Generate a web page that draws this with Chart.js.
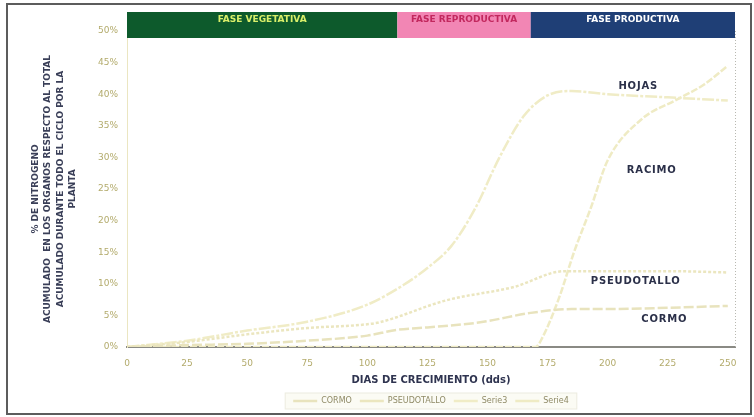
<!DOCTYPE html>
<html>
<head>
<meta charset="utf-8">
<script src="https://cdn.jsdelivr.net/npm/chart.js@4.4.1/dist/chart.umd.min.js"></script>
<style>
  html, body { margin: 0; padding: 0; background: #fff; }
  #wrap { width: 754px; height: 417px; position: relative; }
</style>
</head>
<body>
<div id="wrap"><canvas id="nitroChart"></canvas></div>
<script>
// % de nitrogeno acumulado por organo segun dias de crecimiento
const cormoDias = [0, 25, 50, 75, 100, 112, 125, 147, 168, 185, 200, 225, 250];
const cormoVal  = [0, 0.3, 0.5, 1.0, 1.8, 2.7, 3.1, 3.9, 5.4, 6.0, 6.0, 6.2, 6.5];

const pseudoDias = [0, 25, 50, 75, 100, 105, 133, 161, 182, 200, 225, 250];
const pseudoVal  = [0, 0.8, 2.0, 3.0, 3.6, 3.9, 7.4, 9.5, 12.0, 12.0, 12.0, 11.8];

const hojasDias = [0, 25, 50, 75, 100, 115, 125, 135, 145, 155, 165, 175, 185, 200, 225, 250];
const hojasVal  = [0, 1.0, 2.6, 4.0, 6.7, 9.8, 12.5, 16.0, 22.0, 30.0, 36.5, 39.8, 40.5, 40.0, 39.5, 39.0];

const racimoDias = [0, 50, 100, 150, 170, 173, 180, 186, 193, 200, 214, 228, 240, 250];
const racimoVal  = [0, 0, 0, 0, 0, 1.6, 8.0, 15.0, 22.0, 29.5, 36.0, 39.0, 41.5, 44.5];

const serieNombres = ['CORMO', 'PSEUDOTALLO', 'Serie3', 'Serie4'];

const diasTicks = [0, 25, 50, 75, 100, 125, 150, 175, 200, 225, 250];
const porcentajeTicks = [0, 5, 10, 15, 20, 25, 30, 35, 40, 45, 50];

// fases del cultivo (en dias)
const faseNombres = ['FASE VEGETATIVA', 'FASE REPRODUCTIVA', 'FASE PRODUCTIVA'];
const faseInicio = [0, 112.5, 168];
const faseFin = [112.5, 168, 253];

// etiquetas dentro del grafico
const etiquetas = ['HOJAS', 'RACIMO', 'PSEUDOTALLO', 'CORMO'];
const etiquetaDia = [204.5, 208, 193, 214];
const etiquetaPct = [41.3, 27.9, 10.4, 4.4];

const FONT = "'DejaVu Sans', Verdana, sans-serif";
const faseFondo = ['#0d5a2c', '#f286b4', '#1f3f76'];
const faseTexto = ['#d9ef6a', '#c2285e', '#ffffff'];

function puntos(dias, vals) {
    return dias.map((d, i) => ({ x: d, y: vals[i] }));
}

const marcoPlugin = {
    id: 'marco',
    afterLayout(chart) {
        // centrar la leyenda bajo el area del grafico
        const lg = chart.legend;
        if (!lg) return;
        const dx = (chart.chartArea.left + chart.chartArea.right) / 2 - (lg.left + lg.right) / 2;
        lg.left += dx;
        lg.right += dx;
        (lg.legendHitBoxes || []).forEach(b => { b.left += dx; });
    },
    beforeDraw(chart) {
        const { ctx } = chart;
        ctx.save();
        ctx.fillStyle = '#fff';
        ctx.fillRect(0, 0, chart.width, chart.height);
        ctx.strokeStyle = '#5c5c5c';
        ctx.lineWidth = 2;
        ctx.strokeRect(7, 4, 744, 410);

        // fondo de la leyenda
        const boxes = chart.legend && chart.legend.legendHitBoxes;
        if (boxes && boxes.length) {
            const first = boxes[0];
            const last = boxes[boxes.length - 1];
            const bx = first.left - 8;
            const bw = last.left + last.width - first.left + 16;
            ctx.fillStyle = '#fbfbf4';
            ctx.strokeStyle = '#ecebdf';
            ctx.lineWidth = 1;
            ctx.fillRect(bx, first.top - 4, bw, first.height + 8);
            ctx.strokeRect(bx, first.top - 4, bw, first.height + 8);
        }
        ctx.restore();
    },
    afterDatasetsDraw(chart) {
        const { ctx, chartArea, scales: { x, y } } = chart;
        ctx.save();

        // borde derecho punteado
        ctx.strokeStyle = '#b8b8b0';
        ctx.lineWidth = 1;
        ctx.setLineDash([1, 2]);
        ctx.beginPath();
        ctx.moveTo(chartArea.right + 0.5, chartArea.top);
        ctx.lineTo(chartArea.right + 0.5, chartArea.bottom);
        ctx.stroke();
        ctx.setLineDash([]);

        // barras de fases
        const top = chartArea.top - 19;
        const h = 26;
        faseNombres.forEach((nombre, i) => {
            const x0 = x.getPixelForValue(faseInicio[i]);
            const x1 = x.getPixelForValue(faseFin[i]);
            ctx.fillStyle = faseFondo[i];
            ctx.fillRect(x0, top, x1 - x0, h);
            ctx.fillStyle = faseTexto[i];
            ctx.font = 'bold 9px ' + FONT;
            ctx.textAlign = 'center';
            ctx.textBaseline = 'middle';
            ctx.fillText(nombre, (x0 + x1) / 2, top + 8);
        });

        // nombres de los organos
        ctx.font = 'bold 10px ' + FONT;
        ctx.letterSpacing = '0.8px';
        ctx.textAlign = 'left';
        ctx.textBaseline = 'middle';
        etiquetas.forEach((txt, i) => {
            const px = x.getPixelForValue(etiquetaDia[i]);
            const py = y.getPixelForValue(etiquetaPct[i]);
            const w = ctx.measureText(txt).width;
            ctx.fillStyle = '#ffffff';
            ctx.fillRect(px - 3, py - 7, w + 6, 14);
            ctx.fillStyle = '#2b3049';
            ctx.fillText(txt, px, py);
        });
        ctx.restore();
    }
};

const lineColors = ['#e8e3bd', '#ebe6bf', '#f0ecc6', '#efebc4'];
const lineDashes = [[10, 3], [3, 2], [12, 2, 3, 2], [7, 2]];

new Chart(document.getElementById('nitroChart'), {
    type: 'line',
    data: {
        datasets: [
            { label: serieNombres[0], data: puntos(cormoDias, cormoVal) },
            { label: serieNombres[1], data: puntos(pseudoDias, pseudoVal) },
            { label: serieNombres[2], data: puntos(hojasDias, hojasVal) },
            { label: serieNombres[3], data: puntos(racimoDias, racimoVal) }
        ].map((ds, i) => Object.assign(ds, {
            borderColor: lineColors[i],
            backgroundColor: lineColors[i],
            borderWidth: 2.5,
            borderDash: lineDashes[i],
            pointRadius: 0,
            cubicInterpolationMode: 'monotone',
            fill: false
        }))
    },
    options: {
        responsive: true,
        maintainAspectRatio: false,
        animation: false,
        layout: { padding: { top: 31, right: 19, bottom: 2, left: 7 } },
        scales: {
            x: {
                type: 'linear',
                min: 0,
                max: 253,
                afterBuildTicks: (scale) => { scale.ticks = diasTicks.map(v => ({ value: v })); },
                afterFit: (scale) => { scale.height = 42; },
                grid: { display: false, drawTicks: false, tickLength: 0 },
                border: { display: true, color: '#8a8a84', width: 2 },
                ticks: {
                    color: '#b3ab6c',
                    font: { family: FONT, size: 9 },
                    padding: 11,
                    maxRotation: 0
                },
                title: {
                    display: true,
                    text: 'DIAS DE CRECIMIENTO (dds)',
                    color: '#2f3450',
                    font: { family: FONT, size: 10, weight: 'bold' },
                    padding: { top: 4, bottom: 3 }
                }
            },
            y: {
                min: 0,
                max: 50,
                afterBuildTicks: (scale) => { scale.ticks = porcentajeTicks.map(v => ({ value: v })); },
                afterFit: (scale) => { scale.width = 120; },
                grid: { display: false, drawTicks: false, tickLength: 0 },
                border: { display: true, color: '#ebe6c2', width: 1 },
                ticks: {
                    color: '#b3ab6c',
                    font: { family: FONT, size: 9 },
                    padding: 9,
                    callback: (v) => v + '%'
                },
                title: {
                    display: true,
                    text: [
                        '% DE NITROGENO',
                        'ACUMULADO  EN LOS ORGANOS RESPECTO AL TOTAL',
                        'ACUMULADO DURANTE TODO EL CICLO POR LA',
                        'PLANTA'
                    ],
                    color: '#3a3f58',
                    font: { family: FONT, size: 9, weight: 'bold', lineHeight: 1.4 },
                    padding: { top: 22, bottom: 0 }
                }
            }
        },
        plugins: {
            legend: {
                position: 'bottom',
                labels: {
                    usePointStyle: true,
                    pointStyle: 'line',
                    pointStyleWidth: 24,
                    color: '#8f8a66',
                    font: { family: FONT, size: 8 },
                    padding: 8
                }
            },
            tooltip: { enabled: false }
        }
    },
    plugins: [marcoPlugin]
});
</script>
</body>
</html>
